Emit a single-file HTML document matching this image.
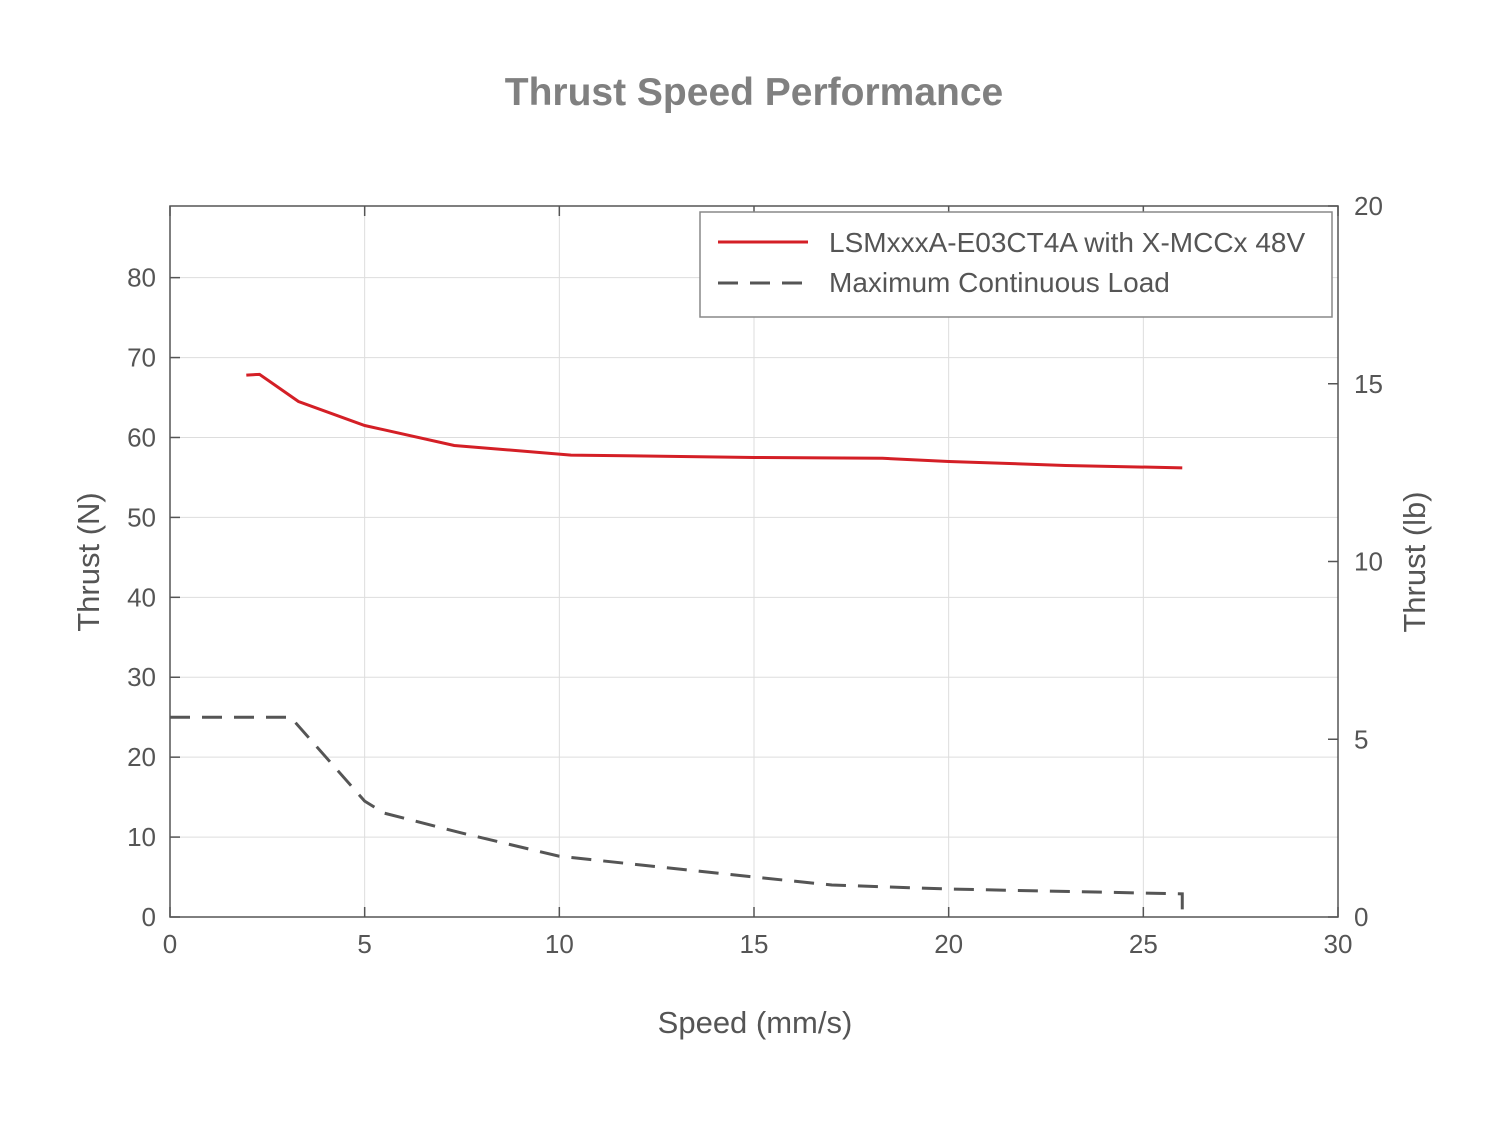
<!DOCTYPE html>
<html><head><meta charset="utf-8"><style>
body{margin:0;background:#fff;font-family:"Liberation Sans",Arial,sans-serif}
svg text{font-family:"Liberation Sans",Arial,sans-serif}
</style></head><body>
<svg id="chart" width="1508" height="1116" xmlns="http://www.w3.org/2000/svg">
<rect width="1508" height="1116" fill="#fff"/>
<text x="754" y="105" text-anchor="middle" font-size="39" font-weight="bold" fill="#808080">Thrust Speed Performance</text>
<g id="grid"></g><g id="axes"></g><g id="series"></g>
<text x="755" y="1033" text-anchor="middle" font-size="31" fill="#555">Speed (mm/s)</text>
<text transform="translate(99,562) rotate(-90)" text-anchor="middle" font-size="31" fill="#555">Thrust (N)</text>
<text transform="translate(1425,562) rotate(-90)" text-anchor="middle" font-size="31" fill="#555">Thrust (lb)</text>
<g>
<rect x="700" y="212" width="632" height="105" fill="#fff" stroke="#888" stroke-width="1.5"/>
<line x1="718" y1="242" x2="808" y2="242" stroke="#d41f26" stroke-width="3"/>
<text x="829" y="252" font-size="28" fill="#555">LSMxxxA-E03CT4A with X-MCCx 48V</text>
<line x1="718" y1="283" x2="808" y2="283" stroke="#555" stroke-width="3" stroke-dasharray="20,12"/>
<text x="829" y="292" font-size="28" fill="#555">Maximum Continuous Load</text>
</g>
</svg>
<script>
const xTicks=[0,5,10,15,20,25,30];
const yTicks=[0,10,20,30,40,50,60,70,80];
const y2Ticks=[0,5,10,15,20];
const thrustSpeed=[1.96,2.3,3.3,5,7.3,10.3,15,18.3,20,23,26];
const thrustN=[67.8,67.9,64.5,61.5,59,57.8,57.5,57.4,57,56.5,56.2];
const loadSpeed=[0,3.1,5,5.5,7.5,10,15,17,20,25,26,26];
const loadN=[25,25,14.5,13,10.5,7.6,5,4,3.5,3,2.9,0];
const L=170,R=1338,T=206,B=917,XMAX=30,YMAX=20*4.448222;
const sx=v=>L+(R-L)*v/XMAX, sy=v=>B-(B-T)*v/YMAX, sy2=v=>B-(B-T)*v/20;
const NS='http://www.w3.org/2000/svg';
function mk(tag,at,parent){const e=document.createElementNS(NS,tag);for(const k in at)e.setAttribute(k,at[k]);document.getElementById(parent).appendChild(e);return e;}
xTicks.forEach(v=>{
 const g=mk('line',{x1:sx(v),x2:sx(v),y1:T,y2:B,stroke:'#ddd','stroke-width':1},'grid');
 
 
 mk('line',{x1:sx(v),x2:sx(v),y1:B,y2:B-10,stroke:'#555','stroke-width':1.5},'axes');
 mk('line',{x1:sx(v),x2:sx(v),y1:T,y2:T+10,stroke:'#555','stroke-width':1.5},'axes');
 const t=mk('text',{x:sx(v),y:B+36,'text-anchor':'middle','font-size':26,fill:'#555'},'axes');
 t.textContent=v;
 
 
});
yTicks.forEach(v=>{
 const g=mk('line',{x1:L,x2:R,y1:sy(v),y2:sy(v),stroke:'#ddd','stroke-width':1},'grid');
 
 
 mk('line',{x1:L,x2:L+10,y1:sy(v),y2:sy(v),stroke:'#555','stroke-width':1.5},'axes');
 const t=mk('text',{x:L-14,y:sy(v)+9,'text-anchor':'end','font-size':26,fill:'#555'},'axes');
 t.textContent=v;
 
 
});
y2Ticks.forEach(v=>{
 mk('line',{x1:R-10,x2:R,y1:sy2(v),y2:sy2(v),stroke:'#555','stroke-width':1.5},'axes');
 const t=mk('text',{x:R+16,y:sy2(v)+9,'font-size':26,fill:'#555'},'axes');
 t.textContent=v;
 
 
});
const frame=mk('rect',{x:L,y:T,width:R-L,height:B-T,fill:'none',stroke:'#555','stroke-width':1.5},'axes');


const p1=mk('polyline',{points:thrustSpeed.map((v,i)=>sx(v)+','+sy(thrustN[i])).join(' '),fill:'none',stroke:'#d41f26','stroke-width':3},'series');


const p2=mk('polyline',{points:loadSpeed.map((v,i)=>sx(v)+','+sy(loadN[i])).join(' '),fill:'none',stroke:'#555','stroke-width':3,'stroke-dasharray':'20,12'},'series');


</script>
</body></html>
